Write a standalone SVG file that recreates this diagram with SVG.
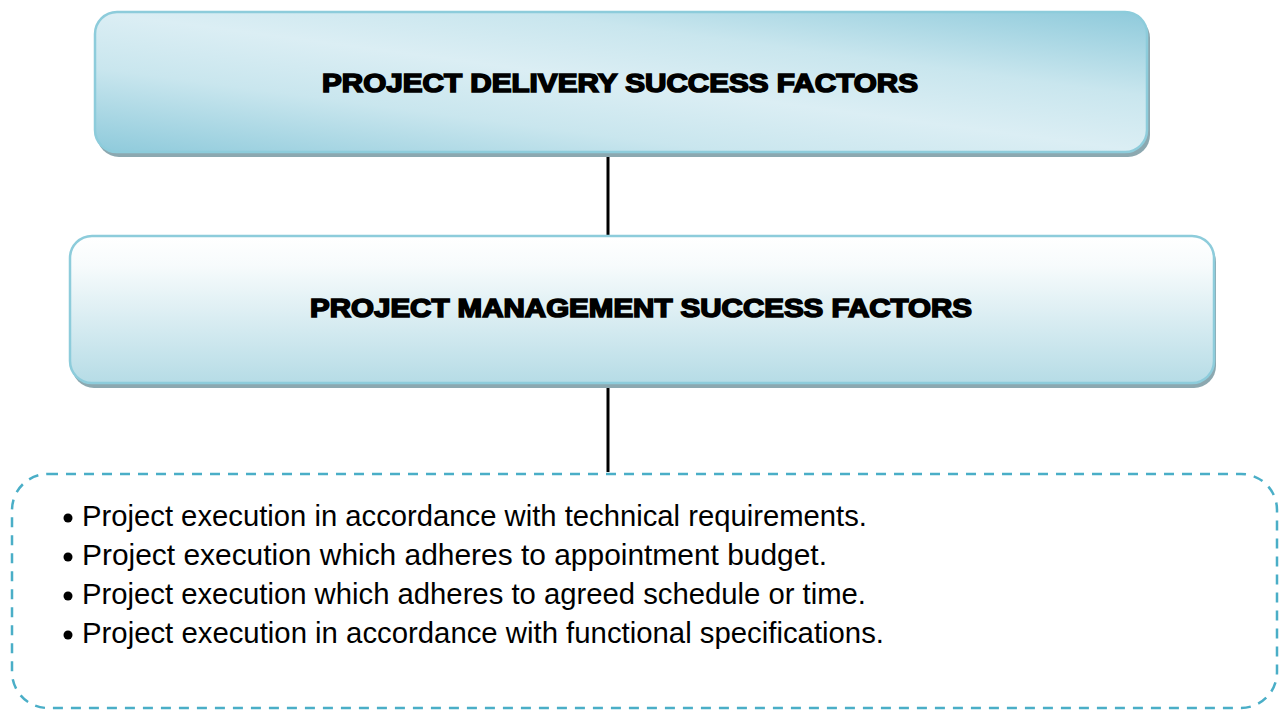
<svg xmlns="http://www.w3.org/2000/svg" width="1282" height="711" viewBox="0 0 1282 711">
  <defs>
    <linearGradient id="gradTop" x1="0" y1="1" x2="1" y2="0">
      <stop offset="0" stop-color="#8ecadb"/>
      <stop offset="0.3" stop-color="#c9e6ee"/>
      <stop offset="0.5" stop-color="#dbeef4"/>
      <stop offset="0.7" stop-color="#c9e6ee"/>
      <stop offset="1" stop-color="#8ecadb"/>
    </linearGradient>
    <linearGradient id="gradMid" x1="0" y1="0" x2="0" y2="1">
      <stop offset="0" stop-color="#ffffff"/>
      <stop offset="0.2" stop-color="#f7fbfc"/>
      <stop offset="1" stop-color="#b6dce6"/>
    </linearGradient>
    <style>
      .shadow { fill: #8ca8b0; }
      .box { stroke: #8dccdb; stroke-width: 2.5; }
      .title { font-family: "Liberation Sans", Arial, sans-serif; font-weight: bold; font-size: 26px; fill: #000; stroke: #000; stroke-width: 1.6; text-anchor: middle; }
      .item { font-family: "Liberation Sans", Arial, sans-serif; font-size: 29px; fill: #000; }
      .conn { stroke: #000; stroke-width: 3; fill: none; }
      .dash { fill: none; stroke: #4aaec7; stroke-width: 2.5; stroke-dasharray: 10 8; }
    </style>
  </defs>

  <!-- connectors between the levels -->
  <g id="connectors">
    <line class="conn" x1="608" y1="151" x2="608" y2="238"/>
    <line class="conn" x1="608" y1="384" x2="608" y2="472"/>
  </g>

  <!-- top level -->
  <g id="delivery">
    <rect class="shadow" x="97" y="16" width="1053" height="141" rx="22"/>
    <rect class="box" x="95" y="12" width="1052" height="140" rx="22" fill="url(#gradTop)"/>
    <text class="title" x="620" y="92" textLength="596" lengthAdjust="spacingAndGlyphs">PROJECT DELIVERY SUCCESS FACTORS</text>
  </g>

  <!-- second level -->
  <g id="management">
    <rect class="shadow" x="72" y="240" width="1144" height="148" rx="22"/>
    <rect class="box" x="70" y="236" width="1144" height="147" rx="22" fill="url(#gradMid)"/>
    <text class="title" x="641" y="317" textLength="662" lengthAdjust="spacingAndGlyphs">PROJECT MANAGEMENT SUCCESS FACTORS</text>
  </g>

  <!-- criteria list -->
  <g id="criteria">
    <rect class="dash" x="12" y="474" width="1265" height="234" rx="36"/>
    <circle cx="68" cy="518" r="4.5"/>
    <circle cx="68" cy="557" r="4.5"/>
    <circle cx="68" cy="596" r="4.5"/>
    <circle cx="68" cy="635" r="4.5"/>
    <text class="item" x="82" y="526" textLength="785" lengthAdjust="spacingAndGlyphs">Project execution in accordance with technical requirements.</text>
    <text class="item" x="82" y="565" textLength="745" lengthAdjust="spacingAndGlyphs">Project execution which adheres to appointment budget.</text>
    <text class="item" x="82" y="604" textLength="784" lengthAdjust="spacingAndGlyphs">Project execution which adheres to agreed schedule or time.</text>
    <text class="item" x="82" y="643" textLength="802" lengthAdjust="spacingAndGlyphs">Project execution in accordance with functional specifications.</text>
  </g>
</svg>
